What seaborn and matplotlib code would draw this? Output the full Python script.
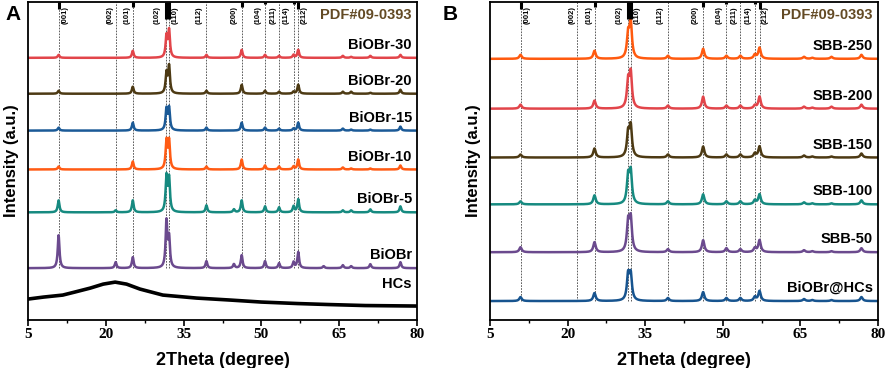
import numpy as np
import pandas as pd
import seaborn as sns
import matplotlib.pyplot as plt
from matplotlib.ticker import FixedLocator

sns.set_theme(style="ticks")
plt.rcParams["font.family"] = ["Liberation Sans", "DejaVu Sans"]
plt.rcParams["text.color"] = "black"
plt.rcParams["axes.labelcolor"] = "black"
plt.rcParams["xtick.color"] = "black"
plt.rcParams["axes.edgecolor"] = "black"

# reflection positions (2theta) of the BiOBr pattern
peak_pos = [10.9, 21.9, 25.2, 31.7, 32.2, 39.4, 44.7, 46.2, 50.7, 53.4, 56.2, 57.1, 62.0, 65.7, 67.3, 71.0, 76.8]

# PDF#09-0393 reference lines and labels
ref_pos = [10.9, 21.9, 25.2, 31.7, 32.2, 39.4, 46.2, 50.7, 53.4, 56.2, 57.1]
ref_hkl = ["(001)", "(002)", "(101)", "(102)", "(110)", "(112)", "(200)", "(104)", "(211)", "(114)", "(212)"]
ref_label_x = [12.2, 20.8, 24.2, 29.9, 33.4, 37.9, 44.7, 49.3, 52.2, 54.8, 58.2]
stick_pos = [10.9, 25.2, 31.7, 32.2, 46.2, 50.7, 56.2, 57.1]
stick_len = [7, 5, 17, 17, 5, 2, 2, 7]

x_major = [5, 20, 35, 50, 65, 80]
x_minor = [12.5, 27.5, 42.5, 57.5, 72.5]

# panel A samples (offset, peak heights in the order of peak_pos)
a_names = ["BiOBr-30", "BiOBr-20", "BiOBr-15", "BiOBr-10", "BiOBr-5", "BiOBr"]
a_offsets = [263, 227, 190, 151, 108, 52]
h_biobr30 = [3, 0, 7, 21, 27, 3, 0, 8, 3, 2, 3, 8, 0, 2, 1, 2, 3]
h_biobr20 = [3, 0, 7, 20, 27, 3, 0, 9, 3, 2, 2, 9, 0, 2, 2, 1, 4]
h_biobr15 = [3, 0, 8, 21, 22, 3, 0, 8, 3, 2, 2, 8, 0, 2, 1, 1, 4]
h_biobr10 = [3, 0, 8, 28, 28, 3, 0, 10, 4, 3, 3, 10, 0, 2, 1, 1, 4]
h_biobr5 = [12, 2, 12, 35, 33, 7, 3, 12, 6, 5, 6, 13, 0, 2, 2, 3, 6]
h_biobr = [33, 6, 11, 46, 29, 7, 4, 13, 7, 5, 6, 16, 2, 3, 2, 4, 6]
a_heights = [h_biobr30, h_biobr20, h_biobr15, h_biobr10, h_biobr5, h_biobr]
a_colors = ["#e2454a", "#4d3a14", "#1b5a97", "#ff5b14", "#168a80", "#6b4a8e"]

# HCs broad hump
hcs_x = [5, 8, 11.7, 14, 17, 19.5, 21.8, 24, 26.6, 31, 37.5, 44, 50, 57, 63, 70, 80]
hcs_y = [21, 23, 25, 28, 32, 36, 38, 36, 31, 25, 22, 20, 18, 16.5, 15.5, 14.5, 14]

# panel B samples
b_names = ["SBB-250", "SBB-200", "SBB-150", "SBB-100", "SBB-50", "BiOBr@HCs"]
b_offsets = [262, 212, 163, 116, 68, 19]
h_sbb250 = [4, 0, 8, 23, 35, 3, 0, 10, 3, 3, 4, 11, 0, 2, 1, 2, 4]
h_sbb200 = [4, 0, 8, 26, 34, 3, 0, 12, 3, 3, 3, 12, 0, 2, 1, 2, 4]
h_sbb150 = [3, 0, 9, 23, 30, 3, 0, 11, 3, 3, 4, 11, 0, 2, 1, 1, 4]
h_sbb100 = [3, 0, 9, 27, 31, 3, 0, 10, 3, 3, 4, 10, 0, 2, 1, 1, 4]
h_sbb50 = [5, 0, 10, 29, 32, 3, 0, 12, 4, 3, 4, 12, 0, 2, 1, 1, 4]
h_biobrhcs = [4, 0, 8, 25, 25, 3, 0, 9, 3, 3, 4, 10, 0, 2, 1, 1, 4]
b_heights = [h_sbb250, h_sbb200, h_sbb150, h_sbb100, h_sbb50, h_biobrhcs]
b_colors = ["#ff5a0f", "#e2454a", "#4d3a14", "#168a80", "#6b4a8e", "#17548f"]

x_grid = np.linspace(5, 80, 1501)


def pattern(name, offset, heights, hw):
    y = np.full_like(x_grid, float(offset))
    for p, h in zip(peak_pos, heights):
        y += h / (1 + ((x_grid - p) / hw) ** 2)
    return pd.DataFrame({"2theta": x_grid, "intensity": y, "sample": name})


df_a = pd.concat([pattern(n, o, h, 0.2) for n, o, h in zip(a_names, a_offsets, a_heights)]
                 + [pd.DataFrame({"2theta": hcs_x, "intensity": hcs_y, "sample": "HCs"})])
df_b = pd.concat([pattern(n, o, h, 0.28) for n, o, h in zip(b_names, b_offsets, b_heights)])

fig = plt.figure(figsize=(8.86, 3.68), dpi=100)
axA = fig.add_axes([28 / 886, 48 / 368, 389 / 886, 318 / 368])
axB = fig.add_axes([490 / 886, 48 / 368, 388 / 886, 318 / 368])

panels = [
    (axA, df_a, a_names + ["HCs"], a_colors + ["black"], a_offsets + [13], "A", 5, min(a_offsets)),
    (axB, df_b, b_names, b_colors, b_offsets, "B", 443, min(b_offsets)),
]

for ax, df, names, colors, offs, letter, lx, vmin in panels:
    ax.vlines(ref_pos, vmin, 319, colors="#444444", linestyles=(0, (2, 1.5)), linewidth=0.6, zorder=1)
    ax.vlines(stick_pos, [319 - s for s in stick_len], 319, colors="black", linewidth=2.2, zorder=3)
    sns.lineplot(data=df, x="2theta", y="intensity", hue="sample", palette=dict(zip(names, colors)),
                 estimator=None, sort=False, legend=False, linewidth=1.8, ax=ax, zorder=2)
    for line in ax.get_lines():
        if line.get_color() == "black":
            line.set_linewidth(2.6)
    for n, o in zip(names, offs):
        yb = 32 if n == "HCs" else o + 9
        ax.text(79.0, yb, n, ha="right", va="baseline", fontsize=10.5, fontweight="bold")
    for lab, xl in zip(ref_hkl, ref_label_x):
        ax.text(xl, 306, lab, rotation=90, ha="center", va="center", fontsize=5.5, fontweight="bold")
    ax.text(79.0, 302, "PDF#09-0393", ha="right", va="baseline", fontsize=10.5,
            fontweight="bold", color="#634a24")
    ax.set_xlim(5, 80)
    ax.set_ylim(0, 319)
    ax.set_yticks([])
    ax.xaxis.set_major_locator(FixedLocator(x_major))
    ax.xaxis.set_minor_locator(FixedLocator(x_minor))
    ax.tick_params(axis="x", which="major", direction="out", length=4, width=1.2, pad=2)
    ax.tick_params(axis="x", which="minor", direction="out", length=2.5, width=1.0)
    ax.set_xticklabels([str(v) for v in x_major], family=["Liberation Serif", "DejaVu Serif"],
                       weight="bold", size=11)
    for s in ax.spines.values():
        s.set_linewidth(1.3)
        s.set_visible(True)
    ax.set_xlabel("2Theta (degree)", fontsize=13, fontweight="bold")
    ax.set_ylabel("Intensity (a.u.)", fontsize=12, fontweight="bold")
    ax.xaxis.set_label_coords(0.5, -0.1)
    ax.yaxis.set_label_coords(-0.022, 0.5)
    fig.text(lx / 886, 1 - 15 / 368, letter, fontsize=15, fontweight="bold", va="center", ha="left")

fig.savefig("out.png", dpi=100)
